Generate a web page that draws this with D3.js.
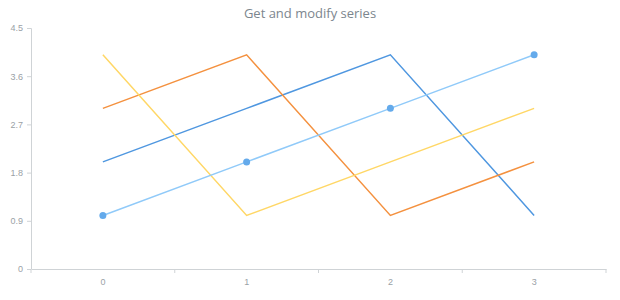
<!DOCTYPE html>
<html>
<head>
<meta charset="utf-8">
<script src="https://cdn.jsdelivr.net/npm/d3@7"></script>
<style>
  body { margin: 0; background: #fff; }
  svg { font-family: "Open Sans", "DejaVu Sans", sans-serif; }
</style>
</head>
<body>
<svg width="620" height="300"></svg>
<script>
var categories = ["0", "1", "2", "3"];
var yTicks = [0, 0.9, 1.8, 2.7, 3.6, 4.5];

var seriesA = [1, 2, 3, 4];   // light blue, with markers
var seriesB = [2, 3, 4, 1];   // blue
var seriesC = [3, 4, 1, 2];   // orange
var seriesD = [4, 1, 2, 3];   // yellow

var series = [
  {values: seriesB, color: "#4f97e0", markers: false},
  {values: seriesC, color: "#f4913f", markers: false},
  {values: seriesD, color: "#ffd766", markers: false},
  {values: seriesA, color: "#90caf9", markers: true, markerColor: "#64aaeb"}
];

var svg = d3.select("svg"),
    margin = {top: 28, right: 14, bottom: 31, left: 31},
    width = +svg.attr("width") - margin.left - margin.right,
    height = +svg.attr("height") - margin.top - margin.bottom,
    g = svg.append("g").attr("transform", "translate(" + margin.left + "," + margin.top + ")");

svg.append("text")
    .attr("x", 310)
    .attr("y", 18)
    .attr("text-anchor", "middle")
    .attr("fill", "#7c868e")
    .attr("font-size", 13)
    .text("Get and modify series");

var x = d3.scaleBand()
    .domain(categories)
    .range([0, width]);

var y = d3.scaleLinear()
    .domain([0, 4.5])
    .range([height, 0]);

// y axis
var yAxis = g.append("g")
    .call(d3.axisLeft(y).tickValues(yTicks).tickSize(4).tickPadding(4).tickFormat(function(d) { return d; }));

// x axis
var xAxis = g.append("g")
    .attr("transform", "translate(0," + height + ")")
    .call(d3.axisBottom(x).tickSize(0).tickPadding(10));

// x tick marks at band edges
var edges = categories.map(function(c) { return x(c); }).concat([width]);
xAxis.selectAll(".edge")
    .data(edges)
  .enter().append("line")
    .attr("class", "edge")
    .attr("x1", function(d) { return d; })
    .attr("x2", function(d) { return d; })
    .attr("y1", 0)
    .attr("y2", 4)
    .attr("stroke", "#cfd3d6");

[yAxis, xAxis].forEach(function(a) {
  a.select(".domain").attr("stroke", "#cfd3d6");
  a.selectAll(".tick line").attr("stroke", "#cfd3d6");
  a.selectAll(".tick text").attr("fill", "#9aa1a6").attr("font-size", 9);
});
yAxis.select(".domain").attr("d", "M0.5," + height + "V0.5H-4");

var line = d3.line()
  .x(function(d, i) { return x(categories[i]) + x.bandwidth() / 2; })
  .y(function(d) { return y(d); });

series.forEach(function(s) {
  g.append("path")
      .datum(s.values)
      .attr("fill", "none")
      .attr("stroke", s.color)
      .attr("stroke-width", 1.5)
      .attr("stroke-linejoin", "miter")
      .attr("d", line);

  if (s.markers) {
    g.selectAll(null)
        .data(s.values)
      .enter().append("circle")
        .attr("cx", function(d, i) { return x(categories[i]) + x.bandwidth() / 2; })
        .attr("cy", function(d) { return y(d); })
        .attr("r", 3.5)
        .attr("fill", s.markerColor);
  }
});
</script>
</body>
</html>
